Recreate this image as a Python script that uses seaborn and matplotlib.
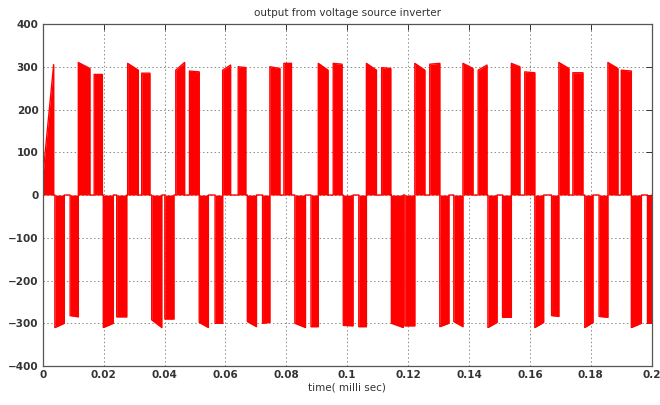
import matplotlib
matplotlib.use("Agg")
import matplotlib.pyplot as plt
import numpy as np
import pandas as pd
import seaborn as sns

# switching blocks of the inverter output
# (start time, end time, level at start, level at end)
pulse_start = [0.0000,
               0.0040, 0.0090, 0.0117, 0.0169,
               0.0199, 0.0243, 0.0279, 0.0325,
               0.0358, 0.0401, 0.0437, 0.0482,
               0.0514, 0.0566, 0.0591, 0.0642,
               0.0672, 0.0722, 0.0746, 0.0792,
               0.0828, 0.0881, 0.0905, 0.0954,
               0.0987, 0.1038, 0.1063, 0.1113,
               0.1145, 0.1189, 0.1222, 0.1271,
               0.1304, 0.1350, 0.1380, 0.1430,
               0.1462, 0.1510, 0.1539, 0.1583,
               0.1616, 0.1671, 0.1695, 0.1741,
               0.1780, 0.1827, 0.1856, 0.1900,
               0.1933, 0.1986]
pulse_end = [0.0036,
             0.0071, 0.0117, 0.0155, 0.0196,
             0.0232, 0.0276, 0.0314, 0.0352,
             0.0391, 0.0431, 0.0466, 0.0514,
             0.0544, 0.0591, 0.0617, 0.0667,
             0.0702, 0.0746, 0.0779, 0.0817,
             0.0863, 0.0905, 0.0937, 0.0983,
             0.1019, 0.1063, 0.1096, 0.1143,
             0.1184, 0.1222, 0.1255, 0.1304,
             0.1334, 0.1380, 0.1413, 0.1459,
             0.1492, 0.1539, 0.1567, 0.1616,
             0.1645, 0.1695, 0.1728, 0.1774,
             0.1807, 0.1856, 0.1889, 0.1933,
             0.1966, 0.2000]
level_start = [40,
               -310, -282, 310, 282,
               -310, -285, 308, 285,
               -292, -290, 292, 290,
               -298, -300, 292, 300,
               -296, -300, 300, 308,
               -300, -308, 308, 308,
               -305, -308, 308, 298,
               -300, -306, 308, 306,
               -308, -296, 308, 292,
               -310, -286, 308, 288,
               -310, -282, 310, 286,
               -310, -284, 310, 292,
               -310, -300]
level_end = [305,
             -300, -285, 296, 282,
             -300, -285, 292, 285,
             -310, -290, 310, 288,
             -310, -300, 304, 298,
             -308, -298, 296, 308,
             -310, -308, 292, 306,
             -306, -308, 292, 296,
             -310, -306, 292, 308,
             -300, -308, 296, 304,
             -298, -286, 300, 286,
             -298, -284, 296, 286,
             -298, -286, 296, 290,
             -300, -300]

x_ticks = [0, 0.02, 0.04, 0.06, 0.08, 0.1, 0.12, 0.14, 0.16, 0.18, 0.2]
x_tick_labels = ["0", "0.02", "0.04", "0.06", "0.08", "0.1",
                 "0.12", "0.14", "0.16", "0.18", "0.2"]
y_ticks = [-400, -300, -200, -100, 0, 100, 200, 300, 400]

# outline of the waveform: up at start, along the top, down at end
rows = []
for t0, t1, v0, v1 in zip(pulse_start, pulse_end, level_start, level_end):
    rows += [(t0, 0), (t0, v0), (t1, v1), (t1, 0)]
df = pd.DataFrame(rows, columns=["time", "voltage"])

sns.set_style("white")
plt.rcParams["font.family"] = ["DejaVu Sans"]

fig = plt.figure(figsize=(6.6, 4.05), dpi=100)
ax = fig.add_axes([0.0647, 0.0963, 0.9228, 0.8444])

ax.fill_between(df["time"], df["voltage"], 0, color="#ff0000", lw=0)
sns.lineplot(data=df, x="time", y="voltage", sort=False, estimator=None,
             color="#ff0000", lw=1.0, ax=ax)

ax.set_xlim(0, 0.2)
ax.set_ylim(-400, 400)
ax.set_xticks(x_ticks)
ax.set_xticklabels(x_tick_labels)
ax.set_yticks(y_ticks)

ax.grid(True, linestyle=(0, (1.5, 2.5)), color="#8a8a8a", lw=0.7)
ax.set_axisbelow(True)
ax.tick_params(direction="in", length=4, width=0.7, top=True, right=True,
               labelsize=7.5, colors="#333333", pad=3)
for lbl in ax.get_xticklabels() + ax.get_yticklabels():
    lbl.set_fontweight("bold")
for sp in ax.spines.values():
    sp.set_color("#555555")
    sp.set_linewidth(0.9)

ax.set_title("output from voltage source inverter", fontsize=7.5,
             color="#333333", pad=6)
ax.set_xlabel("time( milli sec)", fontsize=7.5, color="#333333", labelpad=2)
ax.set_ylabel("")

fig.savefig("out.png", dpi=100, facecolor="white")
plt.close(fig)
